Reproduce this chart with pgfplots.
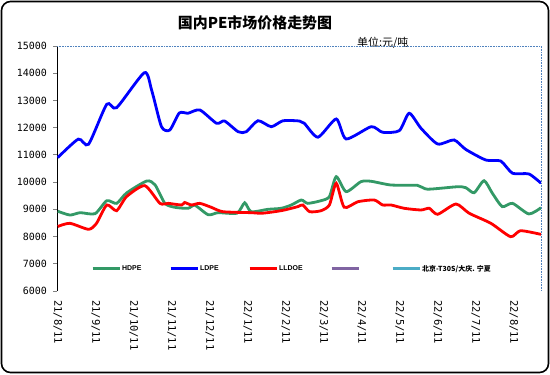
\documentclass[border=0pt]{standalone}
\usepackage{pgfplots}
\pgfplotsset{compat=1.18}
\usepackage{fontspec}
\setmainfont{Liberation Sans}
\newfontfamily\cjk{Noto Sans CJK SC}
\newfontfamily\mono{DejaVu Sans Mono}
\definecolor{hdpe}{RGB}{51,153,102}
\definecolor{ldpe}{RGB}{0,0,255}
\definecolor{lldpe}{RGB}{255,0,0}
\definecolor{purp}{RGB}{128,100,162}
\definecolor{cyanl}{RGB}{75,172,198}
\definecolor{dotb}{RGB}{80,130,190}
\begin{document}
\begin{tikzpicture}[x=1bp,y=1bp]
\path[use as bounding box] (0,0) rectangle (550,374);
\fill[white] (0,0) rectangle (550,374);
\draw[line width=1.6bp, rounded corners=9bp] (1.5,1.5) rectangle (548.5,372.5);
\node[font=\cjk\bfseries\fontsize{15}{18}\selectfont] at (255,351) {国内PE市场价格走势图};
\node[font=\cjk\fontsize{11}{13}\selectfont, anchor=west, inner sep=0] at (357,331) {单位:元/吨};
\begin{axis}[
  name=ax,
  at={(57bp,83bp)}, anchor=south west,
  scale only axis, width=484bp, height=245bp,
  xmin=-0.02, xmax=12.72, ymin=6000, ymax=15000,
  axis x line*=bottom, axis y line*=left,
  x axis line style={draw=none},
  y axis line style={line width=0.8bp, -},
  xtick={0,1,...,12},
  xticklabels={21/8/11,21/9/11,21/10/11,21/11/11,21/12/11,22/1/11,22/2/11,22/3/11,22/4/11,22/5/11,22/6/11,22/7/11,22/8/11},
  xtick style={draw=none},
  xticklabel style={rotate=-90, anchor=west, font=\mono\fontsize{10.5}{12}\selectfont, inner sep=0pt},
  xticklabel shift=9bp,
  ytick={6000,7000,...,15000},
  scaled y ticks=false,
  ytick align=outside, major tick length=4bp,
  ytick style={line width=0.8bp},
  yticklabel style={font=\mono\fontsize{10}{12}\selectfont, inner sep=0pt},
  yticklabel shift=6bp,
  /pgf/number format/assume math mode=true,
  /pgf/number format/1000 sep={},
  legend columns=5,
  legend style={at={(0.070,0.090)}, anchor=west, draw=none, fill=none, inner sep=0pt,
    nodes={inner xsep=1bp, inner ysep=0.5bp},
    font=\bfseries\fontsize{7}{8}\selectfont,
    /tikz/every even column/.style={column sep=0pt}},
  legend image code/.code={\draw[#1, line width=3bp] (0bp,0bp) -- (27bp,0bp);},
]
\addplot[color=hdpe, line width=2.8bp, smooth, tension=0.4] coordinates {
(0.00,8930) (0.32,8790) (0.59,8877) (0.98,8840) (1.29,9318) (1.55,9220) (1.81,9600)
(2.34,10040) (2.56,9900) (2.82,9220) (3.08,9075) (3.43,9038) (3.61,9150) (3.96,8800)
(4.22,8877) (4.72,8860) (4.92,9240) (5.09,8913) (5.53,9000) (5.88,9038) (6.15,9160)
(6.41,9343) (6.58,9220) (6.93,9318) (7.15,9466) (7.33,10200) (7.59,9650) (7.98,10016)
(8.25,10030) (8.77,9894) (9.47,9880) (9.73,9740) (10.52,9830) (10.74,9795) (10.96,9610)
(11.22,10052) (11.44,9590) (11.70,9100) (11.97,9220) (12.40,8830) (12.72,9060)
};
\addlegendentry{\makebox[46bp][l]{HDPE}}
\addplot[color=ldpe, line width=2.8bp, smooth, tension=0.4] coordinates {
(0.00,10900) (0.54,11580) (0.81,11390) (1.29,12860) (1.55,12735) (2.28,14020) (2.47,13385)
(2.73,12036) (2.95,11915) (3.20,12540) (3.43,12530) (3.74,12650) (4.18,12160) (4.39,12245)
(4.75,11850) (4.96,11850) (5.27,12255) (5.62,12035) (5.93,12255) (6.36,12245) (6.49,12160)
(6.85,11650) (7.33,12320) (7.59,11585) (8.25,12036) (8.55,11830) (8.99,11890) (9.25,12530)
(9.56,11980) (10.00,11400) (10.43,11550) (10.74,11200) (11.27,10810) (11.66,10775)
(11.97,10325) (12.40,10300) (12.72,9960)
};
\addlegendentry{\makebox[47bp][l]{LDPE}}
\addplot[color=lldpe, line width=2.8bp, smooth, tension=0.4] coordinates {
(0.00,8370) (0.32,8487) (0.81,8266) (1.02,8487) (1.29,9160) (1.55,8950) (1.81,9466)
(2.29,9870) (2.69,9220) (2.91,9220) (3.26,9160) (3.34,9250) (3.52,9160) (3.74,9220)
(4.04,9075) (4.35,8913) (5.09,8877) (5.36,8855) (5.71,8913) (5.97,8976) (6.32,9100)
(6.45,9160) (6.63,8913) (6.93,8950) (7.15,9160) (7.33,9957) (7.54,9075) (7.90,9280)
(8.33,9343) (8.55,9160) (8.77,9160) (9.12,9038) (9.56,8976) (9.78,9038) (10.00,8818)
(10.48,9196) (10.83,8855) (11.40,8487) (11.92,7995) (12.18,8215) (12.72,8080)
};
\addlegendentry{\makebox[50bp][l]{LLDOE}}
\addlegendimage{color=purp, line width=3bp}
\addlegendentry{\makebox[29bp][l]{}}
\addlegendimage{color=cyanl, line width=3bp}
\addlegendentry{{\cjk 北京-T30S/大庆. 宁夏}}
\end{axis}
\draw[densely dotted, color=dotb, line width=0.6bp] (ax.north west) -- (ax.north east) -- (ax.south east);
\end{tikzpicture}
\end{document}
